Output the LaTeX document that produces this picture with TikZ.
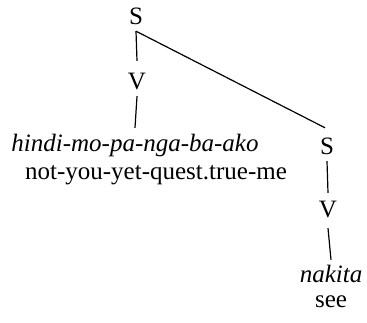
\documentclass[tikz,border=0pt]{standalone}
\usepackage{fontspec}
\setmainfont{Liberation Serif}
\usetikzlibrary{positioning}

\begin{document}
\begin{tikzpicture}[
    x=1pt, y=1pt,
    cat/.style={inner sep=0pt, anchor=base, text height=16pt, text depth=6pt, font=\fontsize{25}{30}\selectfont},
    word/.style={cat, font=\fontsize{25}{30}\selectfont\itshape},
    branch/.style={draw=black, line width=1.2pt}
]
    \useasboundingbox (0,0) rectangle (367,323);

    % Main clause
    \node[cat] (s1) at (136,298) {S};
    \node[cat] (v1) at (137,233) {V};
    \node[word] (word1) at (135,171) {hindi-mo-pa-nga-ba-ako};
    \node[cat] (gloss1) at (156,143) {not-you-yet-quest.true-me};
    \draw[branch] (s1.south) -- ([yshift=13pt]v1.north);
    \draw[branch] (v1.south) -- ([yshift=8pt]word1.north);

    % Embedded clause
    \node[cat] (s2) at (327,168) {S};
    \node[cat] (v2) at (328,105) {V};
    \node[word] (word2) at (331,40) {nakita};
    \node[cat] (gloss2) at (331,15) {see};
    \draw[branch] (s1.south) -- ([xshift=-2pt, yshift=11pt]s2.north);
    \draw[branch] (s2.south) -- ([yshift=9pt]v2.north);
    \draw[branch] ([yshift=-4pt]v2.south) -- ([yshift=7pt]word2.north);

\end{tikzpicture}
\end{document}
